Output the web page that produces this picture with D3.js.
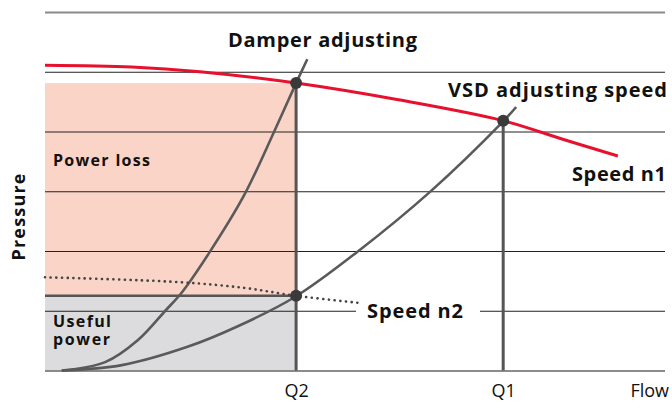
<!DOCTYPE html>
<html>
<head>
<meta charset="utf-8">
<script src="https://cdn.jsdelivr.net/npm/d3@7"></script>
<style>
  body { margin: 0; background: #fff; }
  svg { display: block; font-family: "Open Sans", "DejaVu Sans", sans-serif; }
  .bold { font-weight: 700; fill: #111; }
</style>
</head>
<body>
<div class="main"></div>
<script>
// grid levels on the pressure axis
const gridLevels = [0, 1, 2, 3, 4, 5, 6];

// flow positions of the two operating points
const flowTicks = [4.05, 7.39];
const flowTickLabels = ["Q2", "Q1"];

// pump curve at speed n1 (red)
const n1Flow = [0, 1.4, 2.5, 4.05, 5.7, 7.39, 8.35, 9.24];
const n1Pressure = [5.11, 5.08, 5.0, 4.81, 4.53, 4.18, 3.87, 3.59];

// pump curve at speed n2 (dotted)
const n2Flow = [0, 2.15, 3.23, 4.05, 5.08];
const n2Pressure = [1.56, 1.48, 1.38, 1.25, 1.13];

// system curve with damper
const damperFlow = [0.27, 0.97, 1.5, 1.94, 2.21, 2.63, 3.21, 3.71, 4.05, 4.23];
const damperPressure = [0, 0.14, 0.51, 1.0, 1.31, 1.94, 2.93, 4.03, 4.81, 5.21];

// system curve with VSD
const vsdFlow = [0.27, 1.24, 2.31, 3.11, 4.03, 5.03, 6.21, 7.39, 7.6];
const vsdPressure = [0, 0.09, 0.4, 0.74, 1.23, 1.98, 2.99, 4.17, 4.41];

// operating points
const pointFlow = [4.05, 7.39, 4.05];
const pointPressure = [4.81, 4.18, 1.25];

const width = 672;
const height = 401;

const x = d3.scaleLinear().domain([0, 10]).range([45, 665]);
const y = d3.scaleLinear().domain([0, 6]).range([370.5, 12]);

const svg = d3.select(".main").append("svg")
    .attr("width", width)
    .attr("height", height);

const zip = (a, b) => a.map((v, i) => [v, b[i]]);

// areas: power loss and useful power
svg.append("rect")
    .attr("x", x(0))
    .attr("y", y(n1Pressure[3]))
    .attr("width", x(flowTicks[0]) - x(0))
    .attr("height", y(n2Pressure[3]) - y(n1Pressure[3]))
    .attr("fill", "#fad4c7");

svg.append("rect")
    .attr("x", x(0))
    .attr("y", y(n2Pressure[3]))
    .attr("width", x(flowTicks[0]) - x(0))
    .attr("height", y(0) - y(n2Pressure[3]))
    .attr("fill", "#dcdcde");

// gridlines
const grid = svg.append("g")
    .attr("transform", `translate(${x(0)},0)`)
    .call(d3.axisLeft(y).tickValues(gridLevels).tickSize(-(x(10) - x(0))).tickFormat(""));
grid.select(".domain").remove();
grid.selectAll(".tick line")
    .attr("stroke", d => d === 6 ? "#8a8a8a" : (d === 0 ? "#666" : "#222"))
    .attr("stroke-width", d => d === 6 ? 2 : (d === 0 ? 1.6 : 1.1));

// flow labels
const xAxis = svg.append("g")
    .attr("transform", `translate(0,${y(0)})`)
    .call(d3.axisBottom(x).tickValues(flowTicks).tickSize(0).tickPadding(14)
        .tickFormat((d, i) => flowTickLabels[i]));
xAxis.select(".domain").remove();
xAxis.selectAll("text")
    .attr("font-size", 18)
    .attr("fill", "#111")
    .style("font-family", "'Open Sans', sans-serif");

// top edge of useful power
svg.append("line")
    .attr("x1", x(0)).attr("x2", x(flowTicks[0]))
    .attr("y1", y(n2Pressure[3])).attr("y2", y(n2Pressure[3]))
    .attr("stroke", "#555").attr("stroke-width", 2.5);

// vertical drop lines at Q2 and Q1
svg.selectAll(".drop")
    .data([0, 1])
    .enter().append("line")
    .attr("class", "drop")
    .attr("x1", i => x(pointFlow[i])).attr("x2", i => x(pointFlow[i]))
    .attr("y1", i => y(pointPressure[i])).attr("y2", y(0))
    .attr("stroke", "#555").attr("stroke-width", 3);

const line = d3.line()
    .x(d => x(d[0]))
    .y(d => y(d[1]))
    .curve(d3.curveCatmullRom.alpha(0.5));

// label gap in the gridline for "Speed n2"
svg.append("rect")
    .attr("x", 356).attr("y", 300)
    .attr("width", 124).attr("height", 22)
    .attr("fill", "#fff");

// system curves
svg.append("path")
    .attr("d", line(zip(damperFlow, damperPressure)))
    .attr("fill", "none").attr("stroke", "#5a5a5a").attr("stroke-width", 2.6);

svg.append("path")
    .attr("d", line(zip(vsdFlow, vsdPressure)))
    .attr("fill", "none").attr("stroke", "#5a5a5a").attr("stroke-width", 2.6);

// pump curve n2
svg.append("path")
    .attr("d", line(zip(n2Flow, n2Pressure)))
    .attr("fill", "none").attr("stroke", "#444").attr("stroke-width", 2.6)
    .attr("stroke-dasharray", "0.1 5.6").attr("stroke-linecap", "round");

// pump curve n1
svg.append("path")
    .attr("d", line(zip(n1Flow, n1Pressure)))
    .attr("fill", "none").attr("stroke", "#e8112d").attr("stroke-width", 3);

// operating points
svg.selectAll(".op")
    .data(pointFlow)
    .enter().append("circle")
    .attr("class", "op")
    .attr("cx", d => x(d))
    .attr("cy", (d, i) => y(pointPressure[i]))
    .attr("r", 6)
    .attr("fill", "#3a3a3a");

// labels
const labels = [
    { t: "Damper adjusting", x: 228, y: 47, s: 20, w: 189 },
    { t: "VSD adjusting speed", x: 448, y: 97, s: 20, w: 219 },
    { t: "Speed n1", x: 572, y: 181, s: 20, w: 94 },
    { t: "Speed n2", x: 367, y: 318, s: 20, w: 96 },
    { t: "Power loss", x: 53, y: 166, s: 16, w: 97 },
    { t: "Useful", x: 53, y: 327, s: 16, w: 58 },
    { t: "power", x: 53, y: 345, s: 16, w: 57 }
];

svg.selectAll(".lbl")
    .data(labels)
    .enter().append("text")
    .attr("class", "lbl bold")
    .attr("x", d => d.x)
    .attr("y", d => d.y)
    .attr("font-size", d => d.s)
    .attr("textLength", d => d.w)
    .attr("lengthAdjust", "spacing")
    .text(d => d.t);

svg.append("text")
    .attr("class", "bold")
    .attr("transform", "translate(25,217) rotate(-90)")
    .attr("text-anchor", "middle")
    .attr("font-size", 18)
    .attr("textLength", 87)
    .attr("lengthAdjust", "spacing")
    .text("Pressure");

svg.append("text")
    .attr("x", 669)
    .attr("y", 397)
    .attr("text-anchor", "end")
    .attr("font-size", 18)
    .attr("fill", "#111")
    .text("Flow");
</script>
</body>
</html>
